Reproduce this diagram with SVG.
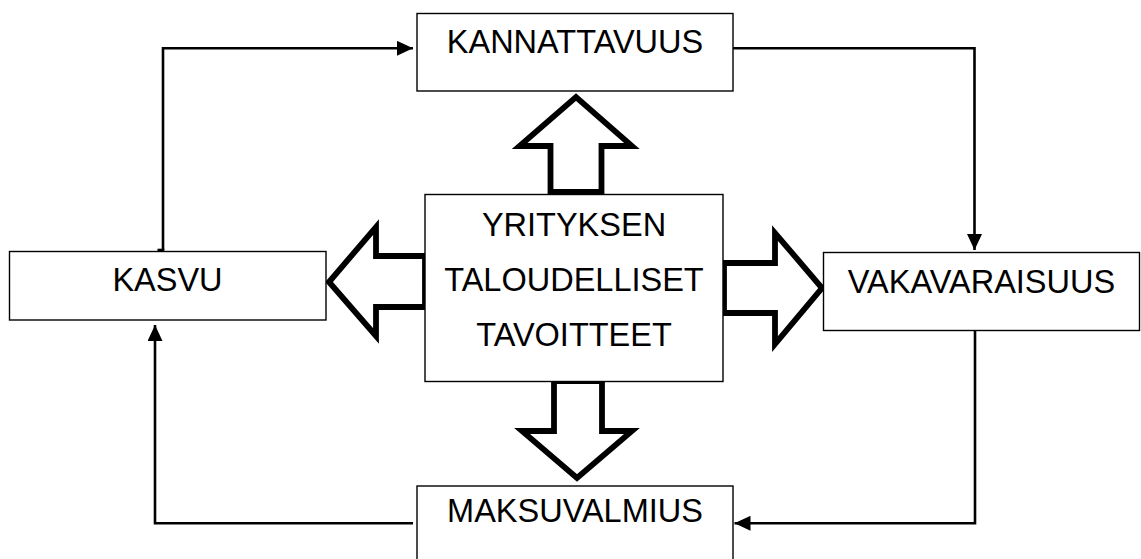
<svg xmlns="http://www.w3.org/2000/svg" width="1141" height="559" viewBox="0 0 1141 559">
  <style>
    .box { fill: #ffffff; stroke: #000000; stroke-width: 1.4; }
    .label { font-family: "Liberation Sans", Arial, sans-serif; font-size: 32.5px; fill: #000000; text-anchor: middle; }
    .conn { fill: none; stroke: #000000; stroke-width: 2.6; }
    .block { fill: #ffffff; stroke: #000000; stroke-width: 5.8; stroke-linejoin: miter; stroke-miterlimit: 10; }
  </style>
  <defs>
    <marker id="tri" viewBox="0 0 16 15" refX="16" refY="7.5" markerWidth="16" markerHeight="15" markerUnits="userSpaceOnUse" orient="auto">
      <path d="M0,0 L16,7.5 L0,15 Z" fill="#000000"/>
    </marker>
  </defs>
  <rect width="1141" height="559" fill="#ffffff"/>

  <!-- cycle connectors -->
  <g id="connectors">
    <path class="conn" d="M163,250 L163,48.3 L413,48.3" marker-end="url(#tri)"/>
    <path class="conn" d="M157.5,250 L164.3,250"/>
    <path class="conn" d="M733,48.3 L974.5,48.3 L974.5,250" marker-end="url(#tri)"/>
    <path class="conn" d="M975,331 L975,523.3 L734.5,523.3" marker-end="url(#tri)"/>
    <path class="conn" d="M413,523.3 L155,523.3 L155,325" marker-end="url(#tri)"/>
  </g>

  <!-- block arrows from the central box -->
  <g id="block-arrows">
    <path id="arrow-up" class="block" d="M550.5,192 L550.5,146 L519.5,146 L576,97 L632,146 L601.5,146 L601.5,192 Z"/>
    <path id="arrow-down" class="block" d="M554,381 L554,431 L522,431 L577,478 L632,431 L602,431 L602,381 Z"/>
    <path id="arrow-left" class="block" d="M425,256 L376,256 L376,227 L329,282 L376,336 L376,307 L425,307 Z"/>
    <path id="arrow-right" class="block" d="M724,263 L775,263 L775,233 L822,288 L775,344 L775,313 L724,313 Z"/>
  </g>

  <g id="node-kannattavuus">
    <rect class="box" x="417" y="13.5" width="316" height="77.5"/>
    <text class="label" x="575" y="53">KANNATTAVUUS</text>
  </g>

  <g id="node-tavoitteet">
    <rect class="box" x="425" y="194.5" width="298" height="187"/>
    <text class="label" x="574" y="236">YRITYKSEN</text>
    <text class="label" x="574" y="291">TALOUDELLISET</text>
    <text class="label" x="574" y="346">TAVOITTEET</text>
  </g>

  <g id="node-kasvu">
    <rect class="box" x="9.5" y="251.5" width="316.5" height="68.5"/>
    <text class="label" x="167.5" y="291">KASVU</text>
  </g>

  <g id="node-vakavaraisuus">
    <rect class="box" x="823.5" y="252.5" width="316" height="78"/>
    <text class="label" x="981.5" y="293">VAKAVARAISUUS</text>
  </g>

  <g id="node-maksuvalmius">
    <rect class="box" x="417" y="486" width="316" height="90"/>
    <text class="label" x="575" y="522">MAKSUVALMIUS</text>
  </g>
</svg>
